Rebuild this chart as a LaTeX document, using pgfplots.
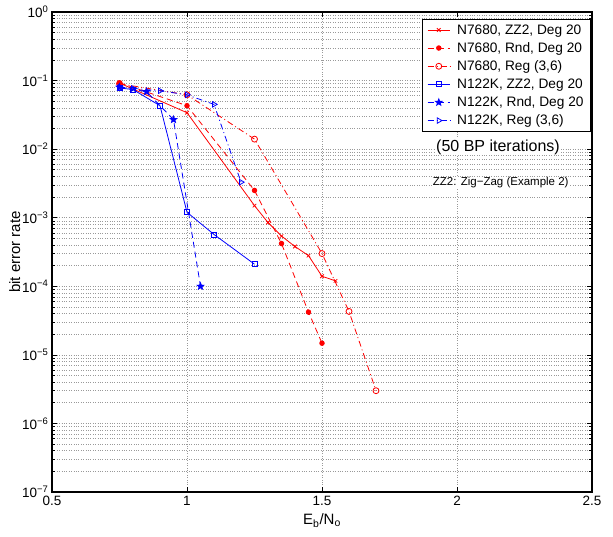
\documentclass[border=0pt]{standalone}
\usepackage{fontspec}
\setmainfont{Liberation Sans}
\usepackage{pgfplots}
\pgfplotsset{compat=1.18}
\pgfdeclareplotmark{fstar}{%
  \pgfpathmoveto{\pgfqpointpolar{90}{\pgfplotmarksize}}%
  \pgfpathlineto{\pgfqpointpolar{126}{0.42\pgfplotmarksize}}%
  \pgfpathlineto{\pgfqpointpolar{162}{\pgfplotmarksize}}%
  \pgfpathlineto{\pgfqpointpolar{198}{0.42\pgfplotmarksize}}%
  \pgfpathlineto{\pgfqpointpolar{234}{\pgfplotmarksize}}%
  \pgfpathlineto{\pgfqpointpolar{270}{0.42\pgfplotmarksize}}%
  \pgfpathlineto{\pgfqpointpolar{306}{\pgfplotmarksize}}%
  \pgfpathlineto{\pgfqpointpolar{342}{0.42\pgfplotmarksize}}%
  \pgfpathlineto{\pgfqpointpolar{18}{\pgfplotmarksize}}%
  \pgfpathlineto{\pgfqpointpolar{54}{0.42\pgfplotmarksize}}%
  \pgfpathclose
  \pgfusepathqfillstroke}
\begin{document}
\begin{tikzpicture}
\tikzset{
  mdash/.style={dash pattern=on 6pt off 4pt},
  mdashdot/.style={dash pattern=on 6pt off 3pt on 1pt off 3pt},
}
\begin{axis}[
  at={(0,0)}, anchor=south west,
  scale only axis, width=540pt, height=480pt,
  xmode=normal, ymode=log,
  xmin=0.5, xmax=2.5, ymin=1e-7, ymax=1,
  xtick={0.5,1,1.5,2,2.5},
  xticklabels={0.5,1,1.5,2,2.5},
  ytick={1e-7,1e-6,1e-5,1e-4,1e-3,1e-2,1e-1,1},
  yticklabels={10\textsuperscript{−7},10\textsuperscript{−6},10\textsuperscript{−5},10\textsuperscript{−4},10\textsuperscript{−3},10\textsuperscript{−2},10\textsuperscript{−1},10\textsuperscript{0}},
  tick label style={font=\fontsize{13.5}{15}\selectfont},
  xticklabel style={yshift=-1pt},
  xmajorgrids, ymajorgrids, yminorgrids,
  major grid style={dotted, gray!80, line width=0.6pt},
  minor grid style={dotted, gray!80, line width=0.6pt},
  axis line style={line width=1.3pt},
  major tick length=5pt, minor tick length=3pt,
  tick style={black, line width=0.6pt},
  xlabel={E\textsubscript{b}/N\textsubscript{o}},
  ylabel={bit error rate},
  label style={font=\fontsize{15}{17}\selectfont},
  xlabel style={yshift=-1pt},
  ylabel style={yshift=-5pt},
  legend style={at={(rel axis cs:1,1)}, anchor=north east, xshift=-1pt, yshift=-7pt,
    font=\fontsize{13.7}{16}\selectfont, draw=black, line width=0.9pt, inner xsep=5pt, inner ysep=3pt,
    cells={anchor=west}, row sep=2.8pt},
  legend image code/.code={\draw[mark repeat=2,mark phase=2,#1] plot coordinates {(0cm,0cm) (0.39cm,0cm) (0.78cm,0cm)};
    \path (0.95cm,0cm);},
  every axis plot/.append style={line width=0.8pt},
]
\addplot[red, mark=x, mark size=2.5pt] coordinates {
(0.75,0.092) (1.0,0.034) (1.25,0.0015) (1.3,0.00085) (1.35,0.00054) (1.4,0.00038) (1.45,0.00028) (1.5,0.00014) (1.55,0.00012)};
\addlegendentry{N7680, ZZ2, Deg 20}
\addplot[red, mdash, mark=*, mark size=2.3pt, mark options={solid}] coordinates {
(0.75,0.093) (1.0,0.043) (1.25,0.0025) (1.35,0.00042) (1.45,0.000042) (1.5,0.0000148)};
\addlegendentry{N7680, Rnd, Deg 20}
\addplot[red, mdashdot, mark=o, mark size=3pt, mark options={solid}] coordinates {
(0.75,0.09) (1.0,0.062) (1.25,0.014) (1.5,0.0003) (1.6,0.000043) (1.7,0.000003)};
\addlegendentry{N7680, Reg (3,6)}
\addplot[blue, mark=square, mark size=2.5pt] coordinates {
(0.75,0.078) (0.8,0.074) (0.9,0.043) (1.0,0.0012) (1.1,0.00057) (1.25,0.00021)};
\addlegendentry{N122K, ZZ2, Deg 20}
\addplot[blue, mdash, mark=fstar, mark size=3.5pt, mark options={solid, fill=blue}] coordinates {
(0.75,0.08) (0.85,0.069) (0.95,0.027) (1.05,0.0001)};
\addlegendentry{N122K, Rnd, Deg 20}
\addplot[blue, mdashdot, mark=triangle, mark size=3.2pt, mark options={solid, rotate=-90}] coordinates {
(0.75,0.08) (0.8,0.077) (0.9,0.071) (1.0,0.062) (1.1,0.045) (1.2,0.0033)};
\addlegendentry{N122K, Reg (3,6)}
\node[font=\fontsize{16}{18}\selectfont, fill=white, inner sep=1pt] at (rel axis cs:0.826,0.719) {(50 BP iterations)};
\node[font=\fontsize{11.5}{13}\selectfont, fill=white, inner sep=1pt] at (rel axis cs:0.831,0.644) {ZZ2: Zig−Zag (Example 2)};
\end{axis}
\pgfresetboundingbox
\path[use as bounding box] (-52pt,-44pt) rectangle (561pt,492pt);
\end{tikzpicture}
\end{document}
